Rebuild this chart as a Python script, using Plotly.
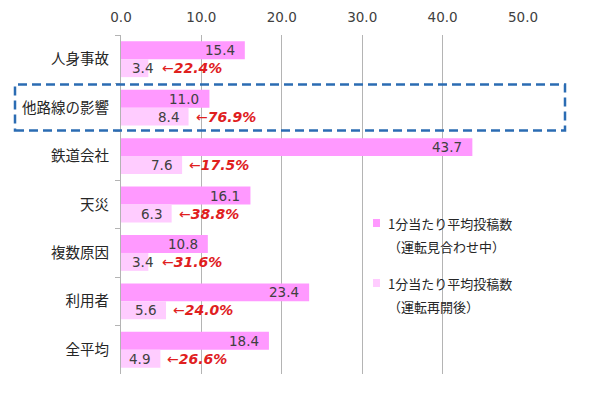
import plotly.graph_objects as go

# ---- data ----
categories = ["人身事故", "他路線の影響", "鉄道会社", "天災", "複数原因", "利用者", "全平均"]
during = [15.4, 11.0, 43.7, 16.1, 10.8, 23.4, 18.4]      # 運転見合わせ中
after = [3.4, 8.4, 7.6, 6.3, 3.4, 5.6, 4.9]              # 運転再開後
ratio_pct = [22.4, 76.9, 17.5, 38.8, 31.6, 24.0, 26.6]
series_names = ["1分当たり平均投稿数<br>（運転見合わせ中）", "1分当たり平均投稿数<br>（運転再開後）"]
legend_line1 = ["1分当たり平均投稿数", "1分当たり平均投稿数"]
legend_line2 = ["（運転見合わせ中）", "（運転再開後）"]

# ---- style ----
C1 = "#FF99FF"
C2 = "#FFCCFF"
RED = "#E0201E"
GRID = "#B4B4B4"
NUM_FONT = "DejaVu Sans, Noto Sans CJK JP"
JP_FONT = "Noto Sans CJK JP, DejaVu Sans"

OFF = 8  # page body margin
W, H = 600, 398
# desired plot area on screen: x 121..523, y 35..374
PL, PR, PT, PB = 121, 523, 35, 374
ML = PL - OFF
MR = W - (PR - OFF)
MT = PT - OFF
MB = H - (PB - OFF)
XMAX = 50
PPU = (PR - PL) / XMAX  # pixels per unit


def px2paper_x(px):  # screen px -> paper
    return (px - PL) / (PR - PL)


def px2paper_y(py):
    return (PB - py) / (PB - PT)


fig = go.Figure()
fig.add_trace(go.Bar(y=categories, x=during, orientation="h", name=series_names[0],
                     marker=dict(color=C1, line=dict(width=0)), hoverinfo="skip"))
fig.add_trace(go.Bar(y=categories, x=after, orientation="h", name=series_names[1],
                     marker=dict(color=C2, line=dict(width=0)), hoverinfo="skip"))

annotations = []
BAR_SHIFT = 9
VAL_FONT = dict(family=NUM_FONT, size=13.5, color="#404040")
for cat, v1, v2, r in zip(categories, during, after, ratio_pct):
    annotations.append(dict(x=v1, y=cat, xref="x", yref="y", text=f"{v1:.1f}",
                            xanchor="right", yanchor="middle", xshift=-8, yshift=BAR_SHIFT,
                            showarrow=False, font=VAL_FONT))
    label_w = 22
    bar_end = v2 * PPU
    if bar_end - 8 - label_w < 5:
        annotations.append(dict(x=0, y=cat, xref="x", yref="y", text=f"{v2:.1f}",
                                xanchor="left", yanchor="middle", xshift=9, yshift=-BAR_SHIFT,
                                showarrow=False, font=VAL_FONT))
        label_end = 9 + label_w
    else:
        annotations.append(dict(x=v2, y=cat, xref="x", yref="y", text=f"{v2:.1f}",
                                xanchor="right", yanchor="middle", xshift=-8, yshift=-BAR_SHIFT,
                                showarrow=False, font=VAL_FONT))
        label_end = bar_end - 8
    start_px = max(bar_end + 5, label_end + 8)
    annotations.append(dict(x=start_px / PPU, y=cat, xref="x", yref="y",
                            text=f"←<b><i>{r:.1f}%</i></b>",
                            xanchor="left", yanchor="middle", yshift=-BAR_SHIFT,
                            showarrow=False, font=dict(family=NUM_FONT, size=14, color=RED)))

# custom legend
leg_rows = [(223, 246), (283, 306)]
shapes = []
shapes.append(dict(type="rect", xref="paper", yref="paper",
                   x0=px2paper_x(368), x1=px2paper_x(517),
                   y0=px2paper_y(321), y1=px2paper_y(202),
                   fillcolor="white", line=dict(width=0), layer="between"))
for i, (y1, y2) in enumerate(leg_rows):
    col = C1 if i == 0 else C2
    shapes.append(dict(type="rect", xref="paper", yref="paper",
                       x0=px2paper_x(373), x1=px2paper_x(380),
                       y0=px2paper_y(y1 + 4), y1=px2paper_y(y1 - 4),
                       fillcolor=col, line=dict(width=0), layer="above"))
    annotations.append(dict(x=px2paper_x(386), y=px2paper_y(y1), xref="paper", yref="paper",
                            text=legend_line1[i], xanchor="left", yanchor="middle", showarrow=False,
                            font=dict(family=JP_FONT, size=13, color="#262626")))
    annotations.append(dict(x=px2paper_x(386), y=px2paper_y(y2), xref="paper", yref="paper",
                            text=legend_line2[i], xanchor="left", yanchor="middle", showarrow=False,
                            font=dict(family=JP_FONT, size=13, color="#262626")))

# dashed highlight box around 他路線の影響
shapes.append(dict(type="rect", xref="paper", yref="paper",
                   x0=px2paper_x(15), x1=px2paper_x(565),
                   y0=px2paper_y(130.5), y1=px2paper_y(84.5),
                   line=dict(color="#2B6CB3", width=2.5, dash="9px,5px"),
                   fillcolor="rgba(0,0,0,0)", layer="above"))

fig.update_layout(
    width=W, height=H,
    margin=dict(l=ML, r=MR, t=MT, b=MB, pad=0, autoexpand=False),
    paper_bgcolor="white", plot_bgcolor="white",
    barmode="group", bargap=0.26, bargroupgap=0,
    showlegend=False,
    font=dict(family=JP_FONT, size=13, color="#262626"),
    xaxis=dict(side="top", range=[0, XMAX], dtick=10, tickformat=".1f",
               showgrid=True, gridcolor=GRID, gridwidth=1, zeroline=False,
               showline=False, ticks="", fixedrange=True, automargin=False,
               ticklabelstandoff=9,
               tickfont=dict(family=NUM_FONT, size=13.5, color="#404040")),
    yaxis=dict(autorange="reversed", showline=True, linecolor=GRID, linewidth=1,
               ticks="outside", ticklen=5, tickcolor=GRID, tickson="boundaries",
               showgrid=False, zeroline=False, fixedrange=True, automargin=False,
               ticklabelstandoff=8,
               tickfont=dict(family=JP_FONT, size=14.5, color="#262626")),
    annotations=annotations,
    shapes=shapes,
)

fig.write_html("out.html")
